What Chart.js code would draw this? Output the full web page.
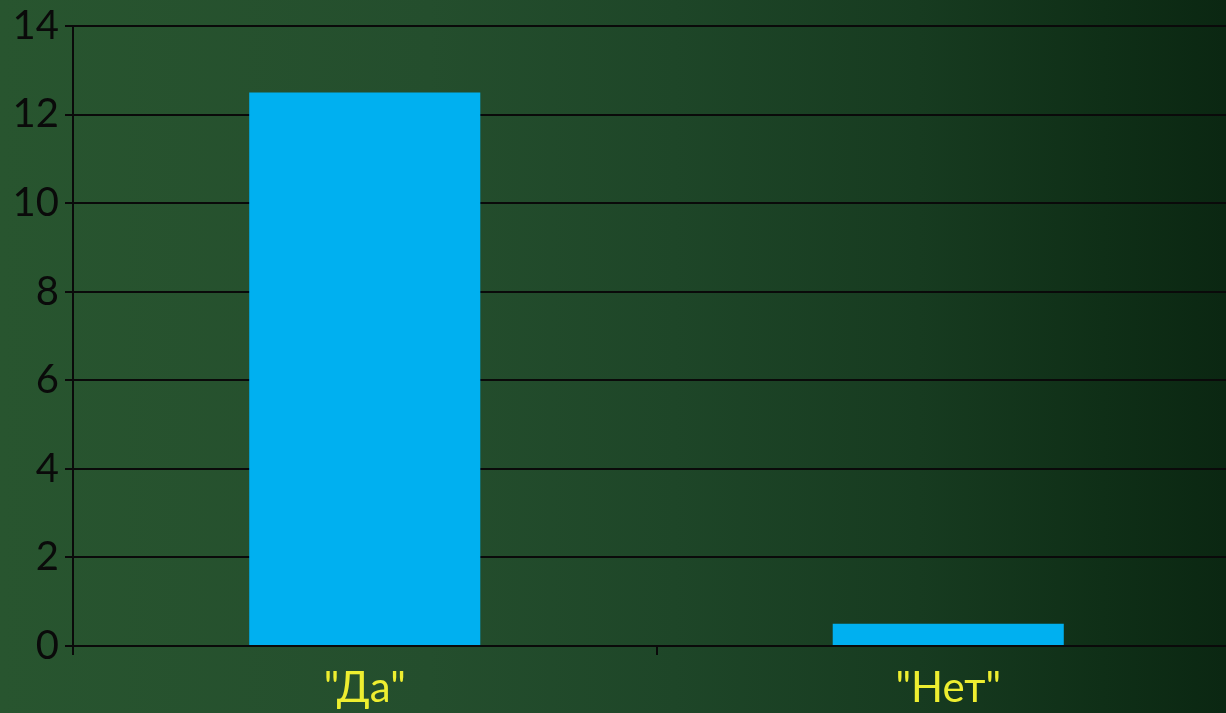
<!DOCTYPE html>
<html>
<head>
<meta charset="utf-8">
<script src="https://cdn.jsdelivr.net/npm/chart.js@4"></script>
<style>
  html, body { margin: 0; padding: 0; overflow: hidden; width: 1226px; height: 713px; }
  body { background: linear-gradient(to right, #28552f 0%, #244e2d 35%, #1e4628 55%, #173b20 75%, #0f2f17 90%, #0b2712 100%); }
  #wrap { width: 1240px; height: 713px; position: absolute; left: 0; top: 0; }
</style>
</head>
<body>
<div id="wrap"><canvas id="c"></canvas></div>
<script>
const categories = ['"Да"', '"Нет"'];
const values = [12.5, 0.5];
const yTicks = [0, 2, 4, 6, 8, 10, 12, 14];

new Chart(document.getElementById('c'), {
  type: 'bar',
  data: {
    labels: categories,
    datasets: [{
      data: values,
      backgroundColor: '#00b0f0',
      borderWidth: 0,
      categoryPercentage: 1,
      barPercentage: 0.396
    }]
  },
  options: {
    responsive: true,
    maintainAspectRatio: false,
    animation: false,
    layout: { padding: { top: 25, right: 0, bottom: 0, left: 0 } },
    plugins: { legend: { display: false }, tooltip: { enabled: false } },
    scales: {
      x: {
        grid: { display: true, drawOnChartArea: false, drawTicks: true, tickLength: 9, color: '#0a0a0a', lineWidth: 2, offset: true },
        border: { display: true, color: '#0a0a0a', width: 2 },
        ticks: { color: '#eeee30', font: { family: 'Lato', size: 42 }, padding: 8 },
        afterFit: s => { s.height = 67; }
      },
      y: {
        min: 0, max: 14,
        afterBuildTicks: s => { s.ticks = yTicks.map(v => ({ value: v })); },
        grid: { color: '#0a0a0a', lineWidth: 2, tickLength: 8, drawTicks: true },
        border: { display: true, color: '#0a0a0a', width: 2 },
        ticks: { color: '#0a0a0a', font: { family: 'Lato', size: 40, lineHeight: 1 }, padding: 6 },
        afterFit: s => { s.width = 73; }
      }
    }
  }
});
</script>
</body>
</html>
